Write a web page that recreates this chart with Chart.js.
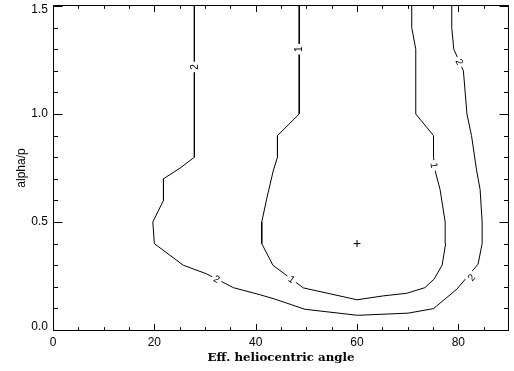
<!DOCTYPE html>
<html><head><meta charset="utf-8">
<script src="https://cdn.jsdelivr.net/npm/chart.js@4/dist/chart.umd.min.js"></script>
<style>html,body{margin:0;padding:0;background:#fff}#wrap{width:514px;height:371px}</style>
</head><body><div id="wrap"><canvas id="c" width="514" height="371"></canvas></div>
<script>
// ---- data ----
const xMajorTicks = [0, 20, 40, 60, 80];
const xMinorTicks = [5, 10, 15, 25, 30, 35, 45, 50, 55, 65, 70, 75, 85];
const yMajorTicks = [0, 0.5, 1.0, 1.5];
const yTickLabels = ['0.0', '0.5', '1.0', '1.5'];
const yMinorTicks = [0.1, 0.2, 0.3, 0.4, 0.6, 0.7, 0.8, 0.9, 1.1, 1.2, 1.3, 1.4];

// contour level 1 (inner)
const contour1X = [48.6, 48.6, 44.3, 44.3, 43.5, 42.2, 41.2, 41.2, 43.4, 47.1, 49.4, 60.0, 65.2, 69.8, 73.4, 75.2, 76.8, 77.5, 77.4, 76.4, 75.4, 75.1, 75.1, 71.6, 71.6, 70.8, 70.8];
const contour1Y = [1.50, 1.00, 0.90, 0.80, 0.74, 0.61, 0.50, 0.40, 0.30, 0.235, 0.195, 0.14, 0.158, 0.17, 0.196, 0.235, 0.30, 0.40, 0.50, 0.65, 0.74, 0.80, 0.90, 1.00, 1.30, 1.40, 1.50];
// contour level 2 (outer)
const contour2X = [27.9, 27.9, 25.1, 21.8, 21.8, 19.7, 20.0, 25.7, 30.3, 35.6, 40.9, 43.8, 49.7, 60.1, 70.1, 75.1, 79.7, 83.9, 84.7, 84.7, 84.3, 83.6, 82.6, 81.7, 81.0, 79.1, 78.7, 78.7];
const contour2Y = [1.50, 0.80, 0.75, 0.70, 0.60, 0.50, 0.40, 0.30, 0.26, 0.196, 0.163, 0.143, 0.096, 0.068, 0.078, 0.099, 0.189, 0.305, 0.40, 0.50, 0.65, 0.74, 0.90, 1.00, 1.20, 1.30, 1.40, 1.50];

const contour1LabelX = [48.6, 47.1, 75.2];
const contour1LabelY = [1.30, 0.235, 0.762];
const contour2LabelX = [27.9, 32.3, 82.6, 80.2];
const contour2LabelY = [1.218, 0.235, 0.243, 1.241];

const bestX = [60];
const bestY = [0.4];

const toPts = (xs, ys) => xs.map((v, i) => ({x: v, y: ys[i]}));

const contours = [
  {text: '1', pts: toPts(contour1X, contour1Y), labels: toPts(contour1LabelX, contour1LabelY)},
  {text: '2', pts: toPts(contour2X, contour2Y), labels: toPts(contour2LabelX, contour2LabelY)}
];

const framePlugin = {
  id: 'frame',
  afterDatasetsDraw(chart) {
    const {ctx, chartArea: a, scales: {x, y}} = chart;
    ctx.save();
    // contour labels
    ctx.font = '10px "Liberation Sans", Arial, sans-serif';
    ctx.textAlign = 'center';
    ctx.textBaseline = 'middle';
    contours.forEach(c => {
      const pp = c.pts.map(p => [x.getPixelForValue(p.x), y.getPixelForValue(p.y)]);
      c.labels.forEach(l => {
        const lx = x.getPixelForValue(l.x), ly = y.getPixelForValue(l.y);
        let best = 1e9, ang = 0;
        for (let i = 0; i < pp.length - 1; i++) {
          const [x1, y1] = pp[i], [x2, y2] = pp[i + 1];
          const dx = x2 - x1, dy = y2 - y1, L = dx * dx + dy * dy;
          let t = L ? ((lx - x1) * dx + (ly - y1) * dy) / L : 0;
          t = Math.max(0, Math.min(1, t));
          const qx = x1 + t * dx, qy = y1 + t * dy;
          const d = (qx - lx) ** 2 + (qy - ly) ** 2;
          if (d < best) { best = d; ang = Math.atan2(dy, dx); }
        }
        if (ang >= Math.PI / 2) ang -= Math.PI;
        if (ang < -Math.PI / 2) ang += Math.PI;
        const w = ctx.measureText(c.text).width;
        ctx.save();
        ctx.translate(lx, ly);
        ctx.rotate(ang);
        ctx.fillStyle = '#fff';
        ctx.fillRect(-w / 2 - 2.5, -4.5, w + 5, 9);
        ctx.fillStyle = '#000';
        ctx.fillText(c.text, 0, 0.5);
        ctx.restore();
      });
    });
    // frame
    ctx.strokeStyle = '#000';
    ctx.lineWidth = 1;
    const L = Math.round(a.left) + 0.5, R = Math.round(a.right) - 0.5;
    const T = Math.round(a.top) - 0.5, B = Math.round(a.bottom) + 0.5;
    ctx.strokeRect(L, T, R - L, B - T);
    ctx.beginPath();
    const hx = (v, len) => {
      const px = Math.round(x.getPixelForValue(v)) + 0.5;
      ctx.moveTo(px, B); ctx.lineTo(px, B - len);
      ctx.moveTo(px, T); ctx.lineTo(px, T + len);
    };
    const vy = (v, len) => {
      const py = Math.round(y.getPixelForValue(v)) + 0.5;
      ctx.moveTo(L, py); ctx.lineTo(L + len, py);
      ctx.moveTo(R, py); ctx.lineTo(R - len, py);
    };
    xMajorTicks.forEach(v => hx(v, 6.5));
    xMinorTicks.forEach(v => hx(v, 3.3));
    yMajorTicks.forEach(v => vy(v, 9));
    yMinorTicks.forEach(v => vy(v, 4.5));
    ctx.stroke();
    ctx.restore();
  }
};

const lineDs = (pts) => ({
  data: pts, showLine: true, borderColor: '#000', borderWidth: 1,
  pointRadius: 0, tension: 0, fill: false
});

const yMin = yMajorTicks[0], yMax = yMajorTicks[yMajorTicks.length - 1];

new Chart(document.getElementById('c'), {
  type: 'scatter',
  data: {
    datasets: [
      lineDs(contours[0].pts),
      lineDs(contours[1].pts),
      {data: toPts(bestX, bestY), showLine: false, pointStyle: 'cross', pointRadius: 3.5,
       borderColor: '#000', borderWidth: 1, backgroundColor: '#000'}
    ]
  },
  options: {
    responsive: false,
    devicePixelRatio: 1,
    animation: false,
    layout: {padding: {top: 6, right: 5, left: 0, bottom: 0}},
    plugins: {legend: {display: false}, tooltip: {enabled: false}},
    scales: {
      x: {
        type: 'linear', position: 'bottom', min: 0, max: 90,
        grid: {display: false, drawTicks: false}, border: {display: false},
        afterBuildTicks: s => { s.ticks = xMajorTicks.map(v => ({value: v})); },
        afterFit: s => { s.height = 41; s.paddingLeft = 0; s.paddingRight = 0; },
        ticks: {color: '#000', font: {family: '"Liberation Sans", Arial, sans-serif', size: 12}, padding: 5, maxRotation: 0, autoSkip: false},
        title: {display: true, text: 'Eff. heliocentric angle', color: '#000',
                font: {family: '"DejaVu Serif", serif', size: 11.8, weight: 'bold'}, padding: {top: 0, bottom: 6}}
      },
      y: {
        type: 'linear', position: 'left', min: yMin, max: yMax,
        grid: {display: false, drawTicks: false}, border: {display: false},
        afterBuildTicks: s => { s.ticks = yMajorTicks.map(v => ({value: v})); },
        afterFit: s => { s.width = 53; s.paddingTop = 0; s.paddingBottom = 0; },
        ticks: {color: '#000', font: {family: '"Liberation Sans", Arial, sans-serif', size: 12, lineHeight: 0.6}, padding: 5, autoSkip: false,
                callback: v => {
                  const i = yMajorTicks.findIndex(t => Math.abs(t - v) < 1e-9);
                  if (i < 0) return '';
                  const s = yTickLabels[i];
                  // keep the end labels inside the frame, as in the original plot
                  if (Math.abs(v - yMax) < 1e-9) return ['', s];
                  if (Math.abs(v - yMin) < 1e-9) return [s, ''];
                  return s;
                }},
        title: {display: true, text: 'alpha/p', color: '#000',
                font: {family: '"Liberation Sans", Arial, sans-serif', size: 12}, padding: {top: 14, bottom: 0}}
      }
    }
  },
  plugins: [framePlugin]
});
</script></body></html>
